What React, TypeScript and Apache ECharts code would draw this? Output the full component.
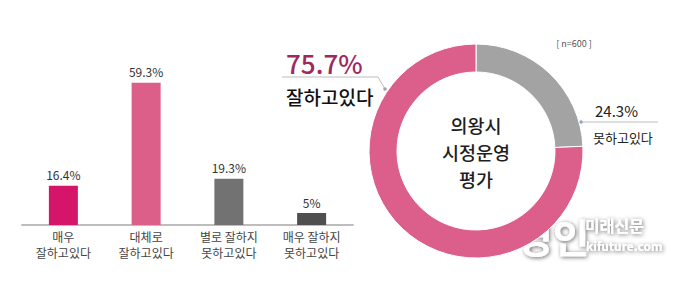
import React, { useEffect, useRef } from "react";
import * as echarts from "echarts";

const barCategories = ["매우\n잘하고있다", "대체로\n잘하고있다", "별로 잘하지\n못하고있다", "매우 잘하지\n못하고있다"];
const barValues = [16.4, 59.3, 19.3, 5];
const barColors = ["#d4156a", "#dc5f8a", "#727272", "#4f4f4f"];

const pieNames = ["못하고있다", "잘하고있다"];
const pieValues = [24.3, 75.7];
const pieColors = ["#a3a3a3", "#db5f8a"];

const centerTitleLines = ["의왕시", "시정운영", "평가"];
const sampleNote = "[ n=600 ]";

const FONT = "'Noto Sans CJK KR', 'Noto Sans', sans-serif";

export default function App() {
  const ref = useRef<HTMLDivElement>(null);
  useEffect(() => {
    if (!ref.current) return;
    const chart = echarts.init(ref.current, null, { renderer: "svg" });
    const cx = 476, cy = 151;
    const shadow = {
      textShadowColor: "rgba(0,0,0,0.6)",
      textShadowBlur: 4,
      textShadowOffsetX: 1,
      textShadowOffsetY: 1,
    };
    const option: any = {
      animation: false,
      backgroundColor: "#ffffff",
      textStyle: { fontFamily: FONT },
      grid: { left: 22, right: 327, top: 81, bottom: 56 },
      xAxis: {
        type: "category",
        data: barCategories,
        axisLine: { show: true, lineStyle: { color: "#bdbdbd", width: 2 } },
        axisTick: { show: false },
        axisLabel: { color: "#444", fontSize: 12, lineHeight: 16, margin: 3, fontFamily: FONT, interval: 0 },
      },
      yAxis: { type: "value", min: 0, max: 60, show: false, splitLine: { show: false } },
      series: [
        {
          type: "bar",
          barWidth: 29,
          data: barValues.map((v, i) => ({ value: v, itemStyle: { color: barColors[i] } })),
          label: {
            show: true,
            position: "top",
            distance: 5,
            color: "#333",
            fontSize: 12,
            fontFamily: FONT,
            formatter: (p: any) => p.value + "%",
          },
        },
        {
          type: "pie",
          center: [cx, cy],
          radius: [79, 107],
          startAngle: 90,
          clockwise: true,
          label: { show: false },
          labelLine: { show: false },
          itemStyle: { borderColor: "#fff", borderWidth: 1 },
          data: pieValues.map((v, i) => ({ value: v, name: pieNames[i], itemStyle: { color: pieColors[i] } })),
        },
      ],
      graphic: [
        ...centerTitleLines.map((t, i) => ({
          type: "text",
          x: cx,
          y: 125 + i * 27,
          style: {
            text: t,
            fill: "#1e1e1e",
            font: `500 18.5px ${FONT}`,
            align: "center",
            verticalAlign: "middle",
          },
        })),
        {
          type: "text",
          x: 574,
          y: 43,
          style: { text: sampleNote, fill: "#555", font: `9px ${FONT}`, align: "center", verticalAlign: "middle" },
        },
        {
          type: "text",
          x: 286,
          y: 62,
          style: {
            text: pieValues[1] + "%",
            fill: "#9e295d",
            font: `500 26px ${FONT}`,
            align: "left",
            verticalAlign: "middle",
          },
        },
        {
          type: "text",
          x: 286,
          y: 96,
          style: {
            text: pieNames[1],
            fill: "#111",
            font: `500 19px ${FONT}`,
            align: "left",
            verticalAlign: "middle",
          },
        },
        {
          type: "polyline",
          shape: { points: [[282, 77], [378, 77], [385, 89]] },
          style: { stroke: "#bdbdbd", lineWidth: 1, fill: "none" },
        },
        { type: "circle", shape: { cx: 385, cy: 89, r: 1.8 }, style: { fill: "#a3a3a3" } },
        {
          type: "text",
          x: 595,
          y: 110,
          style: {
            text: pieValues[0] + "%",
            fill: "#222",
            font: `15px ${FONT}`,
            align: "left",
            verticalAlign: "middle",
          },
        },
        {
          type: "line",
          shape: { x1: 581, y1: 122, x2: 658, y2: 122 },
          style: { stroke: "#bdbdbd", lineWidth: 1 },
        },
        { type: "circle", shape: { cx: 581, cy: 122, r: 1.8 }, style: { fill: "#8aa6c8" } },
        {
          type: "text",
          x: 593,
          y: 137,
          style: {
            text: pieNames[0],
            fill: "#222",
            font: `13px ${FONT}`,
            align: "left",
            verticalAlign: "middle",
          },
        },
        {
          type: "text",
          x: 516,
          y: 236,
          style: {
            text: "경인",
            fill: "#ffffff",
            font: `bold 40px ${FONT}`,
            align: "left",
            verticalAlign: "middle",
            ...shadow,
          },
        },
        {
          type: "text",
          x: 585,
          y: 225,
          style: {
            text: "미래신문",
            fill: "#ffffff",
            font: `bold 16px ${FONT}`,
            align: "left",
            verticalAlign: "middle",
            ...shadow,
          },
        },
        {
          type: "text",
          x: 586,
          y: 245,
          style: {
            text: "kifuture.com",
            fill: "#ffffff",
            font: `bold 12px ${FONT}`,
            align: "left",
            verticalAlign: "middle",
            ...shadow,
          },
        },
      ],
    };
    chart.setOption(option);
    return () => chart.dispose();
  }, []);
  return <div ref={ref} style={{ width: 680, height: 281, position: "fixed", left: 0, top: 0 }} />;
}
